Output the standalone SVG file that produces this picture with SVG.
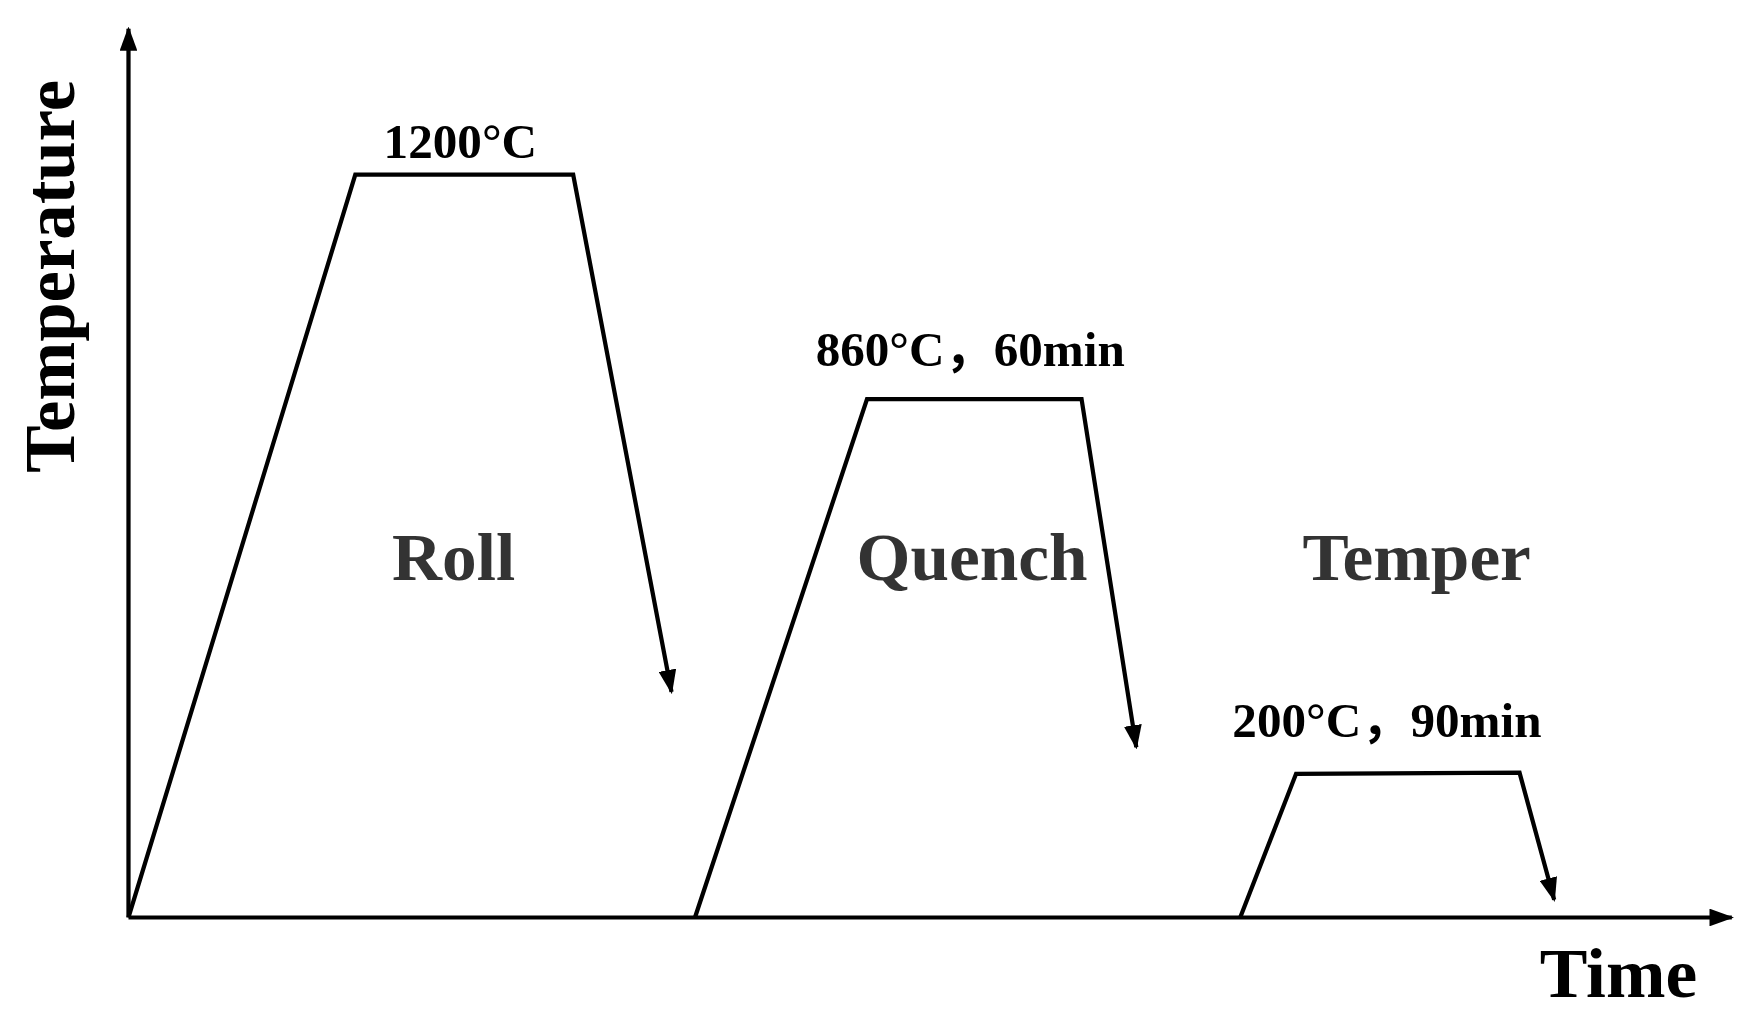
<svg xmlns="http://www.w3.org/2000/svg" width="1743" height="1028" viewBox="0 0 1743 1028">
<style>
.l{fill:none;stroke:#000;stroke-width:3.8;stroke-linejoin:miter}
.t{font-family:"Liberation Serif","Noto Sans CJK SC",serif;font-weight:bold;fill:#000}
.s{font-family:"Liberation Serif",serif;font-weight:bold;fill:#333;font-size:62px;text-anchor:middle}
</style>
<defs>
<marker id="b" viewBox="0 0 22 16" refX="20" refY="8" markerWidth="22" markerHeight="16" orient="auto" markerUnits="userSpaceOnUse"><path d="M0,0L22,8L0,16z" fill="#000"/></marker></defs>
<rect width="1743" height="1028" fill="#fff"/>
<g transform="scale(1.1173 1.1054)">
<g id="axes">
<line class="l" x1="115" y1="830" x2="115" y2="26" marker-end="url(#b)"/>
<line class="l" x1="115" y1="830" x2="1550" y2="830" marker-end="url(#b)"/>
<text class="t" font-size="64" x="1378" y="902">Time</text>
<text class="t" font-size="64" transform="translate(66,250) rotate(-90)" text-anchor="middle">Temperature</text>
</g>
<g id="connectors">
<polyline class="l" points="115,830 318,158 513,158 601,626" marker-end="url(#b)"/>
<polyline class="l" points="622,830 776,361 968,361 1017,676" marker-end="url(#b)"/>
<polyline class="l" points="1110,830 1160,700 1360,699 1391,814" marker-end="url(#b)"/>
</g>
<g id="labels">
<text class="t" font-size="44" x="412" y="143" text-anchor="middle">1200°C</text>
<text class="t" font-size="44" x="730" y="331">860°C，60min</text>
<text class="t" font-size="44" x="1103" y="667">200°C，90min</text>
<text class="s" x="406" y="525">Roll</text>
<text class="s" x="870" y="525">Quench</text>
<text class="s" x="1268" y="525">Temper</text>
</g>
</g>
</svg>
